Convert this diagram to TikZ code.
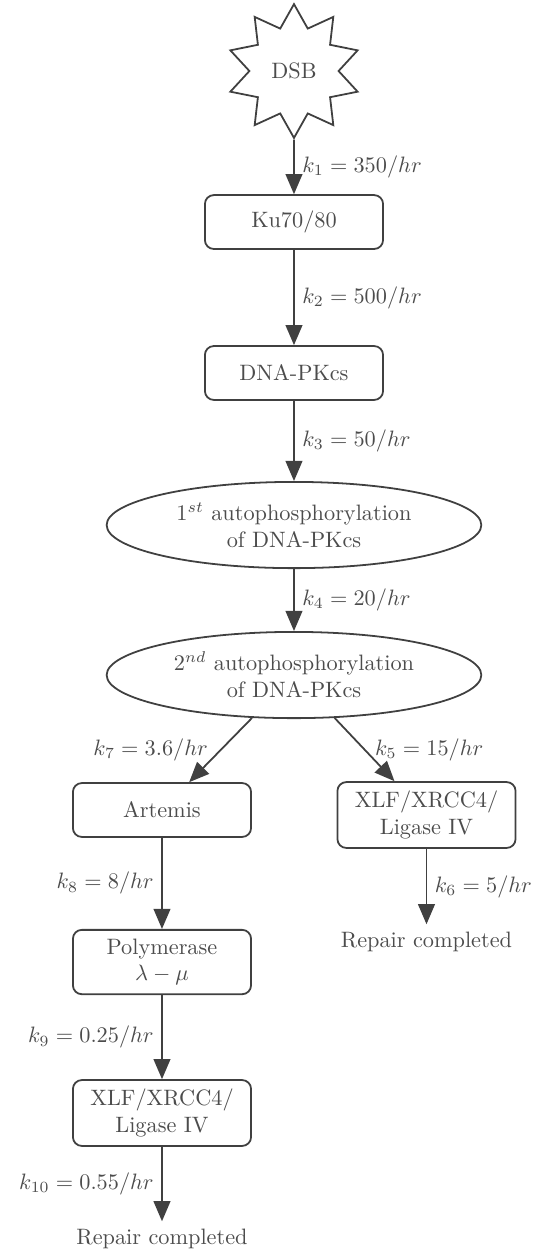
\documentclass[tikz,border=0pt]{standalone}
\usepackage{amsmath,amssymb}
\usepackage{xcolor}
\usepackage{tikz}
\usetikzlibrary{arrows.meta,shapes.geometric,calc}

\begin{document}
\begin{tikzpicture}[
  every node/.style={text=black!70},
  box/.style={draw=black!75,thick,rounded corners,align=center,
              minimum width=2.81cm,minimum height=0.85cm,inner sep=4pt,fill=white},
  stage/.style={draw=black!75,thick,ellipse,align=center,inner sep=0pt,
                minimum width=5.91cm,minimum height=1.36cm,fill=white},
  burst/.style={draw=black!75,thick,star,star points=10,star point ratio=1.5,
                minimum size=2.11cm,fill=white},
  done/.style={align=center},
  arrow/.style={-{Triangle[length=9pt,width=7.5pt]},thick,draw=black!75}
]
\useasboundingbox (0,0) rectangle (8.454,-19.795);

\node[burst]  (dsb)     at (4.637, -1.120) {DSB};
\node[box]    (ku)      at (4.637, -3.502) {Ku70/80};
\node[box]    (pkcs)    at (4.637, -5.883) {DNA-PKcs};
\node[stage]  (auto1)   at (4.637, -8.281) {$1^{st}$ autophosphorylation\\of DNA-PKcs};
\node[stage]  (auto2)   at (4.637,-10.647) {$2^{nd}$ autophosphorylation\\of DNA-PKcs};

\node[box]    (artemis) at (2.555,-12.776) {Artemis};
\node[box]    (polym)   at (2.555,-15.174) {Polymerase\\$\lambda-\mu$};
\node[box]    (ligL)    at (2.555,-17.555) {XLF/XRCC4/\\Ligase IV};
\node[done]   (doneL)   at (2.555,-19.543) {Repair completed};

\node[box]    (ligR)    at (6.727,-12.855) {XLF/XRCC4/\\Ligase IV};
\node[done]   (doneR)   at (6.727,-14.858) {Repair completed};

\draw[arrow] (dsb) -- node[right] {$k_1=350/hr$} (ku);
\draw[arrow] (ku) -- node[right] {$k_2=500/hr$} (pkcs);
\draw[arrow] (pkcs) -- node[right] {$k_3=50/hr$} (auto1);
\draw[arrow] (auto1) -- node[right] {$k_4=20/hr$} (auto2);
\draw[arrow] (auto2) -- node[left,xshift=-2pt] {$k_7=3.6/hr$} (artemis);
\draw[arrow] (auto2) -- node[right,xshift=1pt] {$k_5=15/hr$} (ligR);
\draw[arrow] (ligR) -- node[right] {$k_6=5/hr$} (doneR);
\draw[arrow] (artemis) -- node[left] {$k_8=8/hr$} (polym);
\draw[arrow] (polym) -- node[left] {$k_9=0.25/hr$} (ligL);
\draw[arrow] (ligL) -- node[left] {$k_{10}=0.55/hr$} (doneL);
\end{tikzpicture}
\end{document}
